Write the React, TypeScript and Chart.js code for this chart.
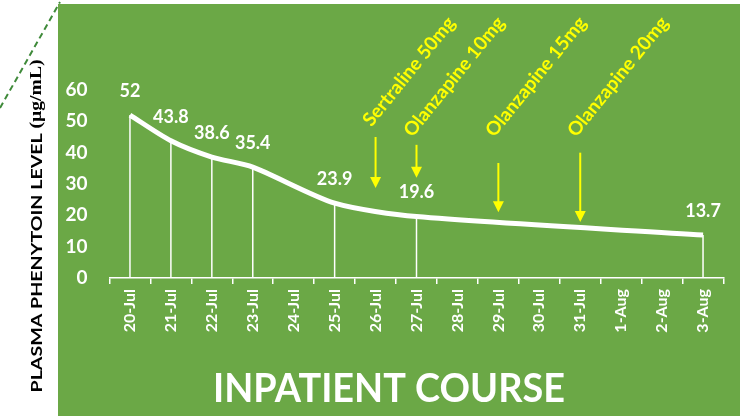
import { useEffect, useRef } from 'react';
import { Chart, registerables } from 'chart.js';

Chart.register(...registerables);

const dates = ['20-Jul', '21-Jul', '22-Jul', '23-Jul', '24-Jul', '25-Jul', '26-Jul', '27-Jul', '28-Jul', '29-Jul', '30-Jul', '31-Jul', '1-Aug', '2-Aug', '3-Aug'];
const phenytoin = [52, 43.8, 38.6, 35.4, null, 23.9, null, 19.6, null, null, null, null, null, null, 13.7];
const yTickValues = [0, 10, 20, 30, 40, 50, 60];

const drugLabels = ['Sertraline 50mg', 'Olanzapine 10mg', 'Olanzapine 15mg', 'Olanzapine 20mg'];
const drugDates = ['26-Jul', '27-Jul', '29-Jul', '31-Jul'];
const arrowTopValues = [45, 42.5, 36.7, 40];
const arrowTipValues = [28.7, 32, 21, 17.9];
const labelBaseValues = [48, 44.7, 44.7, 44.7];

const yTitleMain = 'PLASMA PHENYTOIN LEVEL ';
const yTitleUnit = '(µg/mL)';
const xTitle = 'INPATIENT COURSE';

const GREEN = '#6ba846';
const YELLOW = '#ffff00';
const FONT = 'Lato, "Open Sans", sans-serif';

const decor = {
  id: 'decor',
  beforeDraw(chart: any) {
    const { ctx, width, height } = chart;
    ctx.save();
    ctx.fillStyle = '#ffffff';
    ctx.fillRect(0, 0, width, height);
    ctx.fillStyle = GREEN;
    ctx.fillRect(58, 4, width - 58, height - 4);
    ctx.strokeStyle = '#3f8a3a';
    ctx.lineWidth = 2;
    ctx.setLineDash([6, 4]);
    ctx.beginPath();
    ctx.moveTo(0, 108);
    ctx.lineTo(60, 2);
    ctx.stroke();
    ctx.setLineDash([]);
    ctx.translate(37, 226);
    ctx.rotate(-Math.PI / 2);
    ctx.fillStyle = '#000';
    ctx.textBaseline = 'middle';
    ctx.textAlign = 'left';
    const f1 = `bold 16px ${FONT}`;
    const f2 = `bold 16px "Liberation Serif", serif`;
    ctx.font = f1;
    const w1 = ctx.measureText(yTitleMain).width;
    ctx.font = f2;
    const w2 = ctx.measureText(yTitleUnit).width;
    const total = w1 + w2;
    ctx.scale(333 / total, 1);
    ctx.font = f1;
    ctx.fillText(yTitleMain, -total / 2, 0);
    ctx.font = f2;
    ctx.fillText(yTitleUnit, -total / 2 + w1, 0);
    ctx.restore();
  },
  beforeDatasetsDraw(chart: any) {
    const { ctx, chartArea } = chart;
    const meta = chart.getDatasetMeta(0);
    ctx.save();
    ctx.strokeStyle = '#ffffff';
    ctx.lineWidth = 1.5;
    meta.data.forEach((p: any, i: number) => {
      if (phenytoin[i] === null) return;
      ctx.beginPath();
      ctx.moveTo(p.x, p.y);
      ctx.lineTo(p.x, chartArea.bottom);
      ctx.stroke();
    });
    ctx.restore();
  },
  afterDatasetsDraw(chart: any) {
    const { ctx } = chart;
    const xs = chart.scales.x;
    const ys = chart.scales.y;
    const meta = chart.getDatasetMeta(0);
    ctx.save();
    ctx.fillStyle = '#ffffff';
    ctx.font = `bold 18px ${FONT}`;
    ctx.textAlign = 'center';
    ctx.textBaseline = 'middle';
    meta.data.forEach((p: any, i: number) => {
      const v = phenytoin[i];
      if (v === null) return;
      ctx.fillText(String(v), p.x, p.y - 24);
    });
    drugLabels.forEach((label, i) => {
      const x = xs.getPixelForValue(dates.indexOf(drugDates[i]));
      const yTop = ys.getPixelForValue(arrowTopValues[i]);
      const yTip = ys.getPixelForValue(arrowTipValues[i]);
      ctx.strokeStyle = YELLOW;
      ctx.fillStyle = YELLOW;
      ctx.lineWidth = 2;
      ctx.beginPath();
      ctx.moveTo(x, yTop);
      ctx.lineTo(x, yTip - 9);
      ctx.stroke();
      ctx.beginPath();
      ctx.moveTo(x - 5.5, yTip - 11);
      ctx.lineTo(x + 5.5, yTip - 11);
      ctx.lineTo(x, yTip);
      ctx.closePath();
      ctx.fill();
      ctx.save();
      ctx.translate(x - 4, ys.getPixelForValue(labelBaseValues[i]));
      ctx.rotate((-51 * Math.PI) / 180);
      ctx.font = `bold 19px ${FONT}`;
      ctx.textAlign = 'left';
      ctx.textBaseline = 'alphabetic';
      ctx.fillText(label, 0, 0);
      ctx.restore();
    });
    ctx.save();
    ctx.fillStyle = '#ffffff';
    ctx.font = `bold 40px ${FONT}`;
    const w = ctx.measureText(xTitle).width;
    ctx.translate(389, 389);
    ctx.scale(352 / w, 1);
    ctx.textAlign = 'center';
    ctx.textBaseline = 'middle';
    ctx.fillText(xTitle, 0, 0);
    ctx.restore();
    ctx.restore();
  },
};

export default function App() {
  const ref = useRef<HTMLCanvasElement | null>(null);
  useEffect(() => {
    document.body.style.margin = '0';
    const canvas = ref.current;
    if (!canvas) return;
    const chart = new Chart(canvas, {
      type: 'line',
      data: {
        labels: dates,
        datasets: [
          {
            data: phenytoin as any,
            borderColor: '#ffffff',
            borderWidth: 5,
            pointRadius: 0,
            tension: 0.25,
            spanGaps: true,
            clip: false as any,
            fill: false,
          },
        ],
      },
      options: {
        responsive: false,
        animation: false,
        devicePixelRatio: 1,
        layout: { padding: { top: 90, right: 16.5, left: 0, bottom: 0 } },
        plugins: { legend: { display: false }, tooltip: { enabled: false }, title: { display: false } },
        scales: {
          x: {
            type: 'category',
            offset: true,
            grid: { display: true, offset: true, drawOnChartArea: false, drawTicks: true, tickLength: 6, color: '#ffffff', lineWidth: 1.5 },
            border: { display: true, color: '#ffffff', width: 1.5 },
            ticks: { color: '#ffffff', font: { family: FONT, weight: 'bold', size: 16 }, minRotation: 90, maxRotation: 90, autoSkip: false, padding: 5 },
            afterFit(s: any) { s.height = 138; },
          },
          y: {
            min: 0,
            max: 60,
            afterBuildTicks(s: any) { s.ticks = yTickValues.map((v) => ({ value: v })); },
            ticks: { color: '#ffffff', font: { family: FONT, weight: 'bold', size: 19 }, padding: 22 },
            grid: { display: false, drawTicks: false },
            border: { display: false },
            afterFit(s: any) { s.width = 109.5; },
          },
        },
      },
      plugins: [decor],
    });
    return () => chart.destroy();
  }, []);
  return (
    <div style={{ position: 'absolute', left: 0, top: 0, width: 740, height: 416 }}>
      <canvas ref={ref} width={740} height={416} />
    </div>
  );
}
